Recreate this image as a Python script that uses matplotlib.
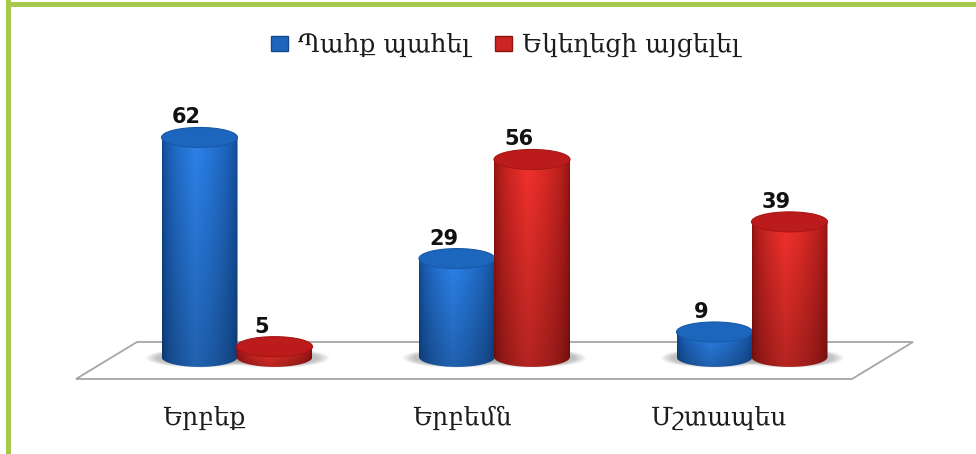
import numpy as np
import matplotlib
matplotlib.use('Agg')
import matplotlib.pyplot as plt
from matplotlib.patches import Ellipse, PathPatch, Patch, Polygon, Rectangle
from matplotlib.path import Path
from matplotlib.colors import to_rgb

categories = ['Երբեք', 'Երբեմն', 'Մշտապես']
series_names = ['Պահք պահել', 'Եկեղեցի այցելել']
fasting = [62, 29, 9]
church = [5, 56, 39]

W, H = 976, 454
X0, X_SCALE = 237, 257.5   # pixel of category 0, pixels per category
Y0, Y_SCALE = 365, 3.67    # pixel of value 0, pixels per value
BASE = 2.2                 # value where the cylinders stand on the floor
OFFSET = 37.5 / X_SCALE
RX = 38 / X_SCALE
RY = 10 / Y_SCALE

BLUE = dict(edge='#0d4288', mid='#2c82ea', top='#1d66be', top2='#175aa8')
RED = dict(edge='#86100f', mid='#f2312c', top='#bb1b1b', top2='#a81515')


def px_x(p):
    return (p - X0) / X_SCALE


def px_y(p):
    return (Y0 - p) / Y_SCALE


def ramp(c0, c1, t):
    c0, c1 = np.array(to_rgb(c0)), np.array(to_rgb(c1))
    return c0 + (c1 - c0) * t[..., None]


def shadow(ax, x, w=1.45):
    xs = np.linspace(x - RX * 1.6, x + RX * 1.6, 120)
    ys = np.linspace(BASE - RY * 1.5, BASE + RY * 1.5, 50)
    xx, yy = np.meshgrid((xs - x) / (RX * w), (ys - BASE + RY * 0.1) / (RY * 1.0))
    a = np.clip((1 - xx ** 2 - yy ** 2) * 2.5, 0, 1) * 0.6
    img = np.zeros(a.shape + (4,))
    img[..., :3] = 0.6
    img[..., 3] = a
    ax.imshow(img, extent=[xs[0], xs[-1], ys[0], ys[-1]], origin='lower',
              aspect='auto', zorder=2, interpolation='bilinear')


def cylinder(ax, x, value, col, z):
    t = np.linspace(np.pi, 2 * np.pi, 60)
    low_x = x + RX * np.cos(t)
    low_y = BASE + RY * np.sin(t)
    verts = np.r_[np.c_[low_x, low_y], [[x + RX, value], [x - RX, value], [x - RX, BASE]]]
    body = Path(verts, closed=False)

    u = np.linspace(0, 1, 160)
    shade = np.where(u < 0.45, u / 0.45, (1 - u) / 0.55) ** 0.5
    row = ramp(col['edge'], col['mid'], shade)
    v = np.linspace(0, 1, 80)[:, None]
    img = row[None, :, :] * (0.75 + 0.25 * v)[:, :, None]
    im = ax.imshow(img, extent=[x - RX, x + RX, BASE - RY, value], origin='lower',
                   aspect='auto', zorder=z, interpolation='bilinear')
    patch = PathPatch(body, fc='none', ec='none', zorder=z)
    ax.add_patch(patch)
    im.set_clip_path(patch)
    ax.add_patch(Ellipse((x, value), RX * 2, RY * 2, fc=col['top'], ec=col['top2'],
                         lw=0.8, zorder=z + 0.1))


fig = plt.figure(figsize=(W / 100, H / 100), dpi=100)
ax = fig.add_axes([0, 0, 1, 1])
ax.axis('off')

# floor
floor = [(76, 379), (137, 342), (913, 342), (852, 379)]
ax.add_patch(Polygon([(px_x(a), px_y(b)) for a, b in floor], closed=True, fc='white',
                     ec='#a6a6a6', lw=1.3, zorder=1))

for i in range(len(categories)):
    shadow(ax, i - OFFSET)
    shadow(ax, i + OFFSET)

for i, cat in enumerate(categories):
    cylinder(ax, i - OFFSET, fasting[i], BLUE, 3 + i)
    cylinder(ax, i + OFFSET, church[i], RED, 3.5 + i)
    ax.text(i - OFFSET - 13 / X_SCALE, fasting[i] + 20 / Y_SCALE, str(fasting[i]),
            ha='center', va='center', fontsize=15, fontweight='bold', color='#111111', zorder=9)
    ax.text(i + OFFSET - 13 / X_SCALE, church[i] + 20 / Y_SCALE, str(church[i]),
            ha='center', va='center', fontsize=15, fontweight='bold', color='#111111', zorder=9)
    ax.text(i - 33 / X_SCALE, px_y(418), cat, ha='center', va='center', fontsize=18,
            family='DejaVu Serif', color='#1c1c1c', zorder=9)

handles = [Patch(fc='#1e66bd', ec='#14478c'), Patch(fc='#cc2323', ec='#8f1214')]
ax.legend(handles, series_names, ncol=2, frameon=False, loc='center',
          bbox_to_anchor=(505 / W, 1 - 45 / H), handlelength=0.68, handleheight=0.55,
          handletextpad=0.4, columnspacing=1.0, borderpad=0,
          prop={'family': 'DejaVu Serif', 'size': 18}, labelcolor='#1c1c1c')

# green frame of the page
ax.add_patch(Rectangle((px_x(6), px_y(H)), 5.5 / X_SCALE, H / Y_SCALE, fc='#a4c94b', ec='none', zorder=10))
ax.add_patch(Rectangle((px_x(6), px_y(6.5)), (W - 6) / X_SCALE, 4.5 / Y_SCALE, fc='#a4c94b', ec='none', zorder=10))

ax.set_xlim(px_x(0), px_x(W))
ax.set_ylim(px_y(H), px_y(0))

fig.savefig('out.png', dpi=100)
